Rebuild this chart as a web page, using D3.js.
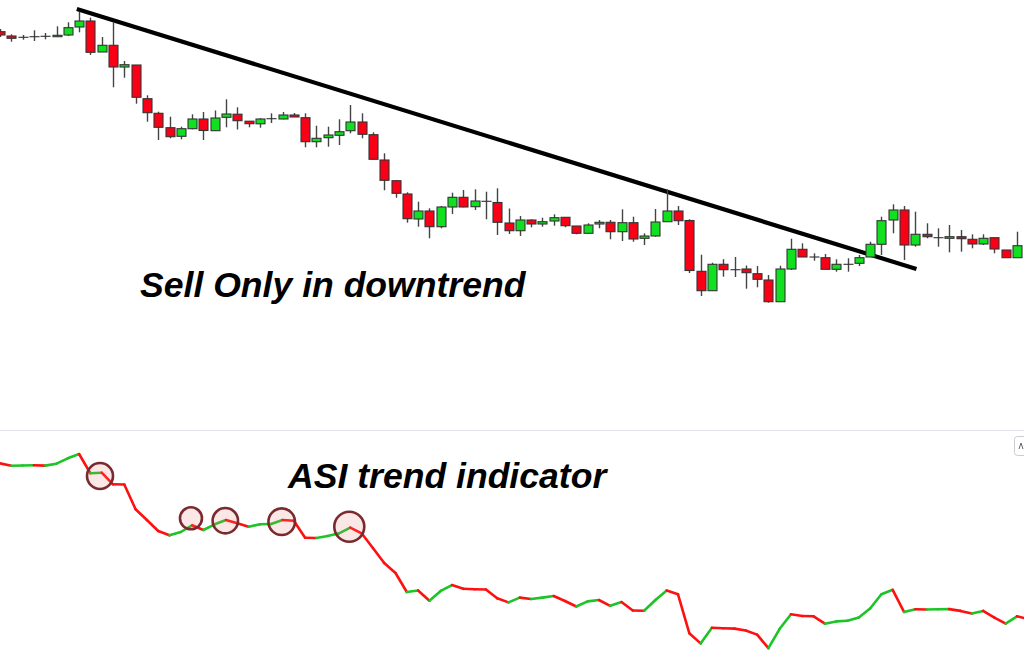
<!DOCTYPE html>
<html>
<head>
<meta charset="utf-8">
<script src="https://cdn.jsdelivr.net/npm/d3@7"></script>
<style>
  html, body { margin: 0; padding: 0; background: #ffffff; }
  svg { display: block; }
</style>
</head>
<body>
<svg id="chart" width="1024" height="661"></svg>
<script>
// ---------- DATA ----------
// Candles (arbitrary price units), index 0..90
const opens  = [268.3,264,262.7,263.3,263.7,263.3,265,273,279,248,254.7,233,235,201.3,186.7,172.3,163.7,171.3,181,169.3,182.7,185.8,178.8,176.2,181.3,181,185,182.3,158.3,162.3,164.7,169.3,178,165.3,140,119.3,106,81,89,73.3,93,102.7,93.3,98.7,97.5,77,69.3,80,76,79,82.7,74,66.7,76,77.7,68.3,77.3,61.7,64,78.3,89,79.5,28.7,9.3,35.7,30.3,31,26.3,20,-1.7,31,50.7,43,42.3,30.7,35.7,36.7,43,55.7,80,90,55,65.7,62.3,61.7,63.3,60.7,56,62.3,50,42.3];
const highs  = [271,265.7,265,269.7,267,273.7,277.7,288.3,282.3,263,277.7,239,235,204.7,188.3,183.3,173.3,185.7,188,189.5,200.7,192.7,179,182,186.7,188,187,186.7,174.3,173.3,180.7,195,186.7,167.7,146.7,119.3,107.7,98.3,91.7,94,107.3,110,110.7,108.3,111.7,91.5,84,80.7,82.3,85.7,82.7,74,76.7,80,80,90.7,83.3,66.7,91,110.7,94,80.7,45.3,37.3,40.8,43,34.5,34,25,34.3,61.3,56.7,46.7,46,40.7,41.7,45,58.3,83.3,95.7,94,88.3,76.7,71.7,75,70,65.7,65.7,62.3,50,68.3];
const lows   = [263,258.3,260.3,259,260.7,263,264,267.7,245,248,212.7,222.3,196.3,178.3,160,161.7,160.7,170.7,160,169.3,172.7,170.5,172.7,172.3,177,180.7,183,152.7,152.7,153.3,155,166.7,161.7,140.7,109.7,102.3,77.3,73.3,61.7,71.7,86,92.7,90,80.7,65,66,64,72.7,73.3,74.3,72.7,65.7,66.7,71.7,60.7,59,58.3,55,63.3,78.3,75,27,4,9.3,23.3,23,11.3,12.7,-2.7,-1.7,30,43,39.3,30.7,28.3,28.3,34,43,45,66.7,40,53.3,61.7,53.3,47.7,48.3,51.7,55,46.7,42.3,42.3];
const closes = [265,261.7,262.7,263.3,263.7,264.7,272.3,279,247.7,254.7,233,235.3,202.7,187.3,172.7,163.3,171.3,181,169.5,182,186,179.3,176.3,181,181.3,185,183,158.3,161.7,165,168.3,178,165.7,140.7,119.7,106.7,81.3,89,73.3,93,102.7,93,99,98.7,77.7,69.3,80,76,78.3,82.3,74.3,66.7,75,77.7,68.3,77.3,61,64,78,89,79.3,29.5,9.3,35.7,30.3,30.3,27.3,20.7,-1.7,31,50.7,43,43,30.7,35.7,35.7,42.3,55.7,79.3,90,55,65.7,63.3,62.3,63.3,61.3,56,61.7,51,42.3,54.3];

// ASI indicator values, one per candle (+1 beyond the right edge)
const asi = [236.7,234.3,234.5,234.7,234.4,236.3,241.7,246,226.7,227.3,215.7,215.5,190.7,180,169,164.7,168,174.7,170,175.7,180,176.7,173.3,175.7,176,180,179.3,162.3,162,164,166.7,172.3,166.7,152,137,127,108,109.5,99.3,109.1,114.9,111.2,110.8,110.5,101.7,97.6,102.4,101,102.4,104,99,93.5,98.6,100,94.2,98,89.5,89.3,100,109.5,105.7,66.8,56.6,72.2,71.7,71.4,69.5,65.4,51.8,71.2,85.7,84,83.7,76.3,78.6,79.3,82.4,91.5,105.7,110.2,88.1,90.8,90.5,90.7,90.9,89.1,86.4,89.1,82.4,76.3,83.7,81];

// Downtrend line: [candle index, price]
const trendIdx   = [6.8, 81.1];
const trendPrice = [291, 31];

// Highlighted ASI points: candle index and ASI value
const markIdx = [8.85, 16.9, 19.94, 24.93, 30.91];
const markAsi = [224, 181.7, 179.3, 178.3, 173.3];
const markSize = [13, 11, 12.7, 13.3, 15];

const labels = ["Sell Only in downtrend", "ASI trend indicator"];

// ---------- DRAW ----------
const svg = d3.select("#chart");
const W = 1024, H = 661;
const GREEN = "#11e020", RED = "#fa0016";
const LGREEN = "#1cc428", LRED = "#ff1010";

const n = opens.length;
const x = d3.scaleLinear().domain([0, 90]).range([0, 1017]);
const yP = d3.scaleLinear().domain([0, 300]).range([300, 0]);
const yA = d3.scaleLinear().domain([50, 250]).range([650, 450]);
const bodyW = 9;

const candles = d3.range(n).map(i => ({i, o: opens[i], h: highs[i], l: lows[i], c: closes[i]}));

// trend line (behind candles)
const trend = trendIdx.map((t, k) => [t, trendPrice[k]]);
svg.append("path")
  .attr("d", d3.line().x(d => x(d[0])).y(d => yP(d[1]))(trend))
  .attr("stroke", "#000").attr("stroke-width", 4.2).attr("fill", "none");

const g = svg.append("g");
g.selectAll("line.wick").data(candles).join("line")
  .attr("class", "wick")
  .attr("x1", d => Math.round(x(d.i)) + 0.5).attr("x2", d => Math.round(x(d.i)) + 0.5)
  .attr("y1", d => yP(d.h)).attr("y2", d => yP(d.l))
  .attr("stroke", "#444").attr("stroke-width", 1.4);

g.selectAll("rect.body").data(candles).join("rect")
  .attr("class", "body")
  .attr("x", d => Math.round(x(d.i)) + 0.5 - bodyW / 2)
  .attr("y", d => yP(Math.max(d.o, d.c)))
  .attr("width", bodyW)
  .attr("height", d => Math.max(0.01, Math.abs(yP(d.o) - yP(d.c))))
  .attr("fill", d => d.c > d.o ? GREEN : (d.c < d.o ? RED : "#333"))
  .attr("stroke", "#333").attr("stroke-width", 1.1);

// separator between panes
svg.append("line").attr("x1", 0).attr("x2", W).attr("y1", 430.5).attr("y2", 430.5)
  .attr("stroke", "#e0e3eb").attr("stroke-width", 1);
// small pane button at the right edge
svg.append("rect").attr("x", 1014.5).attr("y", 436.5).attr("width", 22).attr("height", 19).attr("rx", 3)
  .attr("fill", "#fff").attr("stroke", "#c9ccd3");
svg.append("path").attr("d", "M1019,449 L1021,443 L1023,449").attr("fill", "none").attr("stroke", "#666").attr("stroke-width", 1);

// ASI line, coloured per segment by direction
const segs = d3.range(asi.length - 1).map(i => ({i, a: asi[i], b: asi[i + 1]}));
svg.append("g").selectAll("line").data(segs).join("line")
  .attr("x1", d => x(d.i)).attr("y1", d => yA(d.a))
  .attr("x2", d => x(d.i + 1)).attr("y2", d => yA(d.b))
  .attr("stroke", d => d.b > d.a ? LGREEN : LRED)
  .attr("stroke-width", 2.6).attr("stroke-linecap", "round");

// highlight circles
svg.append("g").selectAll("circle").data(markIdx.map((m, k) => ({m, v: markAsi[k], r: markSize[k]}))).join("circle")
  .attr("cx", d => x(d.m)).attr("cy", d => yA(d.v)).attr("r", d => d.r)
  .attr("fill", "rgba(240,120,120,0.18)")
  .attr("stroke", "#7a2a2e").attr("stroke-width", 2.6);

// labels
svg.append("text").attr("x", 140).attr("y", 297).text(labels[0])
  .attr("font-family", "'Liberation Sans', Arial, sans-serif").attr("font-weight", "bold")
  .attr("font-style", "italic").attr("font-size", 35.6).attr("fill", "#000");
svg.append("text").attr("x", 288).attr("y", 488).text(labels[1])
  .attr("font-family", "'Liberation Sans', Arial, sans-serif").attr("font-weight", "bold")
  .attr("font-style", "italic").attr("font-size", 35.6).attr("fill", "#000");
</script>
</body>
</html>
